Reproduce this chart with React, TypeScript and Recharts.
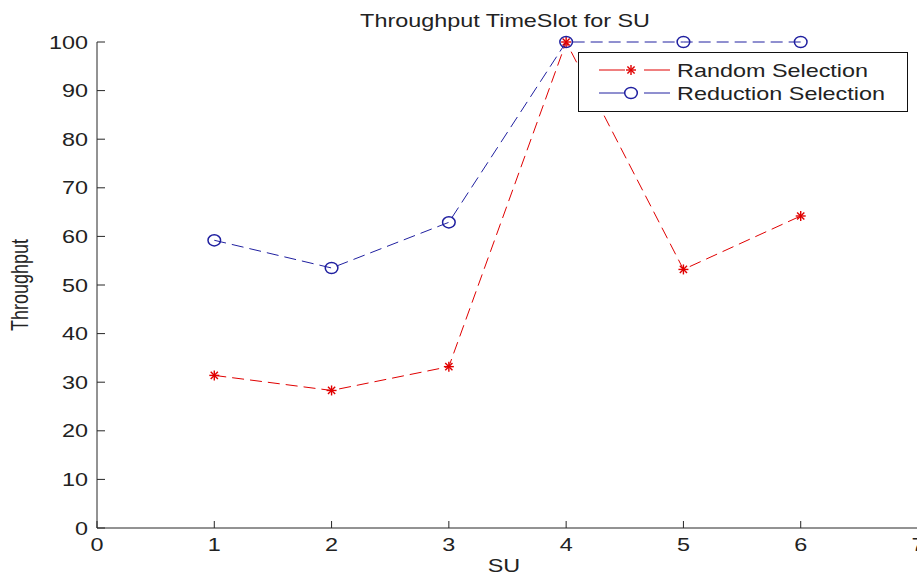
import React from 'react';
import { LineChart, Line, XAxis, YAxis, Legend, Customized } from 'recharts';

// ---- data ----
const suValues = [1, 2, 3, 4, 5, 6];
const randomSelection = [31.4, 28.3, 33.2, 100, 53.2, 64.2];
const reductionSelection = [59.2, 53.5, 62.9, 100, 100, 100];
const xTicks = [0, 1, 2, 3, 4, 5, 6, 7];
const yTicks = [0, 10, 20, 30, 40, 50, 60, 70, 80, 90, 100];
const chartTitle = 'Throughput TimeSlot for SU';
const xLabel = 'SU';
const yLabel = 'Throughput';
const seriesNames = ['Random Selection', 'Reduction Selection'];

const data = suValues.map((su, i) => ({
  su,
  random: randomSelection[i],
  reduction: reductionSelection[i],
}));

// ---- style ----
const FONT = '"Liberation Sans", Arial, sans-serif';
const FS = 18;
const SX = 1.3;
const TXT = '#222';
const AX = '#262626';
const RED = '#e00000';
const BLUE = '#2020a0';
const W = 918;
const H = 577;
const TOP = 42;
const LEFT_W = 97;
const BOTTOM_H = 49;

const SText = ({ x, y, anchor = 'middle', children, rotate = false }: any) => (
  <text
    x={0}
    y={0}
    transform={`translate(${x},${y}) scale(${SX},1)${rotate ? ' rotate(-90)' : ''}`}
    textAnchor={anchor}
    fontFamily={FONT}
    fontSize={FS}
    fill={TXT}
  >
    {children}
  </text>
);

const XTickBottom = (props: any) => {
  const { x, y, payload } = props;
  return (
    <g>
      <line x1={x} x2={x} y1={y} y2={y - 7} stroke={AX} strokeWidth={1} />
      <SText x={x} y={y + 22.5}>{payload.value}</SText>
    </g>
  );
};

const XTickTop = (props: any) => {
  const { x, y } = props;
  return <line x1={x} x2={x} y1={y} y2={y + 7} stroke={AX} strokeWidth={1} />;
};

const YTickLeft = (props: any) => {
  const { x, y, payload } = props;
  return (
    <g>
      <line x1={x} x2={x + 8} y1={y} y2={y} stroke={AX} strokeWidth={1} />
      <SText x={x - 9} y={y + 6.5} anchor="end">{payload.value}</SText>
    </g>
  );
};

const YTickRight = (props: any) => {
  const { x, y } = props;
  return <line x1={x - 8} x2={x} y1={y} y2={y} stroke={AX} strokeWidth={1} />;
};

const Asterisk = ({ cx, cy, color }: any) => {
  const r = 5;
  const d = 3.6;
  return (
    <g stroke={color} strokeWidth={1.4}>
      <line x1={cx - r} x2={cx + r} y1={cy} y2={cy} />
      <line x1={cx} x2={cx} y1={cy - r} y2={cy + r} />
      <line x1={cx - d} x2={cx + d} y1={cy - d} y2={cy + d} />
      <line x1={cx - d} x2={cx + d} y1={cy + d} y2={cy - d} />
    </g>
  );
};

const Circle = ({ cx, cy, color }: any) => (
  <ellipse cx={cx} cy={cy} rx={6.3} ry={5.6} fill="none" stroke={color} strokeWidth={1.5} />
);

const renderRandomDot = (p: any) => (
  <Asterisk key={`r-${p.index}`} cx={p.cx} cy={p.cy} color={RED} />
);
const renderReductionDot = (p: any) => (
  <Circle key={`b-${p.index}`} cx={p.cx} cy={p.cy} color={BLUE} />
);

const LegendBox = (props: any) => {
  const payload = props.payload || [];
  const bw = 329;
  const bh = 59;
  const rows = [18, 41];
  return (
    <svg width={bw + 1} height={bh + 1} style={{ display: 'block' }}>
      <rect x={0.5} y={0.5} width={bw} height={bh} fill="#fff" stroke="#111" strokeWidth={1} />
      {payload.map((entry: any, i: number) => {
        const ry = rows[i];
        const isRandom = entry.dataKey === 'random';
        return (
          <g key={entry.value}>
            <line x1={21} x2={92} y1={ry} y2={ry} stroke={entry.color} strokeWidth={1} strokeDasharray="26 19 26" />
            {isRandom ? (
              <Asterisk cx={53} cy={ry} color={entry.color} />
            ) : (
              <Circle cx={53} cy={ry} color={entry.color} />
            )}
            <SText x={99} y={ry + 6.5} anchor="start">{entry.value}</SText>
          </g>
        );
      })}
    </svg>
  );
};

const Labels = () => (
  <g>
    <SText x={505} y={27}>{chartTitle}</SText>
    <SText x={504} y={571.5}>{xLabel}</SText>
    <SText x={28} y={285} rotate>{yLabel}</SText>
  </g>
);

export default function App() {
  return (
    <div
      style={{
        position: 'absolute',
        left: 0,
        top: 0,
        width: 917,
        height: 577,
        overflow: 'hidden',
        background: '#fff',
      }}
    >
      <LineChart width={W} height={H} data={data} margin={{ top: TOP, right: 0, bottom: 0, left: 0 }}>
        <XAxis
          xAxisId="b"
          dataKey="su"
          type="number"
          domain={[0, 7]}
          ticks={xTicks}
          interval={0}
          height={BOTTOM_H}
          tickSize={0}
          tickMargin={0}
          tickLine={false}
          axisLine={{ stroke: AX, strokeWidth: 1 }}
          tick={XTickBottom}
        />
        <XAxis
          xAxisId="t"
          orientation="top"
          dataKey="su"
          type="number"
          domain={[0, 7]}
          ticks={xTicks}
          interval={0}
          height={0}
          tickSize={0}
          tickMargin={0}
          tickLine={false}
          axisLine={{ stroke: AX, strokeWidth: 1 }}
          tick={XTickTop}
        />
        <YAxis
          yAxisId="l"
          type="number"
          domain={[0, 100]}
          ticks={yTicks}
          interval={0}
          width={LEFT_W}
          tickSize={0}
          tickMargin={0}
          tickLine={false}
          axisLine={{ stroke: AX, strokeWidth: 1 }}
          tick={YTickLeft}
        />
        <YAxis
          yAxisId="r"
          orientation="right"
          type="number"
          domain={[0, 100]}
          ticks={yTicks}
          interval={0}
          width={0}
          tickSize={0}
          tickMargin={0}
          tickLine={false}
          axisLine={{ stroke: AX, strokeWidth: 1 }}
          tick={YTickRight}
        />
        <Line
          xAxisId="b"
          yAxisId="l"
          type="linear"
          dataKey="random"
          name={seriesNames[0]}
          stroke={RED}
          strokeWidth={1}
          strokeDasharray="12 6"
          dot={renderRandomDot}
          activeDot={false}
          isAnimationActive={false}
        />
        <Line
          xAxisId="b"
          yAxisId="l"
          type="linear"
          dataKey="reduction"
          name={seriesNames[1]}
          stroke={BLUE}
          strokeWidth={1}
          strokeDasharray="12 6"
          dot={renderReductionDot}
          activeDot={false}
          isAnimationActive={false}
        />
        <Customized component={Labels} />
        <Legend
          layout="vertical"
          align="center"
          verticalAlign="middle"
          content={LegendBox}
          wrapperStyle={{ left: 578, top: 52, width: 330, height: 60, position: 'absolute' }}
        />
      </LineChart>
    </div>
  );
}
